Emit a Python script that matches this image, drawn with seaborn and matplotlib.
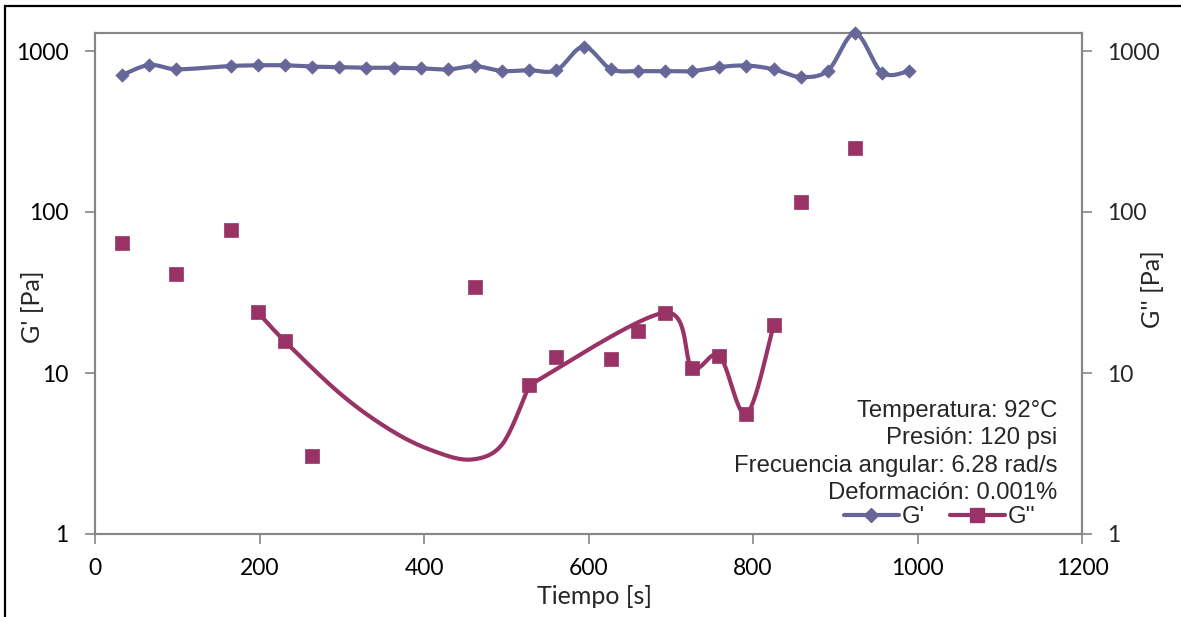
import numpy as np
import pandas as pd
import matplotlib
matplotlib.use("Agg")
import matplotlib.pyplot as plt
from matplotlib.lines import Line2D
from matplotlib.patches import Rectangle
from matplotlib.ticker import FixedLocator, FixedFormatter, NullLocator
import seaborn as sns

# ---------------- data ----------------
gp_time = [33, 66, 99, 165, 198, 231, 264, 297, 330, 363, 396, 429, 462, 495, 528,
           561, 594, 627, 660, 693, 726, 759, 792, 825, 858, 891, 924, 957, 990]
gp_value = [710, 819, 770, 807, 815, 815, 800, 795, 787, 787, 780, 768, 805, 752, 760,
            760, 1064, 773, 750, 750, 750, 795, 812, 770, 690, 755, 1288, 733, 751]

gpp_time = [33, 99, 165, 198, 231, 264, 462, 528, 561, 627, 660, 693, 726, 759, 792,
            825, 858, 924]
gpp_value = [64.5, 41, 77.3, 23.8, 15.7, 3.05, 34, 8.4, 12.6, 12.3, 18.2, 23.7, 10.8,
             12.8, 5.56, 19.8, 115, 250]

# path of the G'' curve as drawn in the picture (two pieces joined at t=528)
gpp_line1_time = [198, 231, 300, 360, 410, 457, 495, 528]
gpp_line1_value = [23.8, 15.7, 7.3, 4.4, 3.3, 2.9, 3.6, 8.4]
gpp_line2_time = [528, 693, 726, 759, 792, 825]
gpp_line2_value = [8.4, 23.7, 10.8, 12.8, 5.56, 19.8]

x_ticks = [0, 200, 400, 600, 800, 1000, 1200]
y_ticks = [1, 10, 100, 1000]
y_tick_labels = ["1", "10", "100", "1000"]

notes = ["Temperatura: 92°C", "Presión: 120 psi",
         "Frecuencia angular: 6.28 rad/s", "Deformación: 0.001%"]

C_GP = "#666699"
C_GPP = "#993366"
AX_GRAY = "#868686"

W, H = 1181, 617
sns.set_theme(style="white")
plt.rcParams["font.family"] = ["Lato", "DejaVu Sans"]

fig = plt.figure(figsize=(W / 100, H / 100), dpi=100)
L, R, T, B = 95, 1082, 33, 534
ax = fig.add_axes([L / W, 1 - B / H, (R - L) / W, (B - T) / H])

YMAX = 10 ** ((B - T) / 161.0)
XMAX = 1200


def smooth(xs, ys, n=30, cap=0.4):
    """Catmull-Rom style Bezier smoothing in screen-like space, with the
    control-point distance capped relative to the segment length."""
    sx = (R - L) / XMAX
    sy = 161.0
    P = np.column_stack([np.asarray(xs, float) * sx, np.log10(np.asarray(ys, float)) * sy])
    out = [P[0]]

    def clamp(v, lim):
        nv = np.hypot(*v)
        return v * (lim / nv) if nv > lim else v

    for i in range(len(P) - 1):
        p0 = P[i - 1] if i > 0 else P[i]
        p1 = P[i]
        p2 = P[i + 1]
        p3 = P[i + 2] if i + 2 < len(P) else P[i + 1]
        d = np.hypot(*(p2 - p1))
        c1 = p1 + clamp((p2 - p0) / 6.0, cap * d)
        c2 = p2 - clamp((p3 - p1) / 6.0, cap * d)
        t = np.linspace(0, 1, n)[1:, None]
        seg = ((1 - t) ** 3) * p1 + 3 * ((1 - t) ** 2) * t * c1 + 3 * (1 - t) * t ** 2 * c2 + t ** 3 * p2
        out.extend(seg)
    out = np.array(out)
    return out[:, 0] / sx, 10 ** (out[:, 1] / sy)


gx, gy = smooth(gp_time, gp_value)
h1x, h1y = smooth(gpp_line1_time, gpp_line1_value)
h2x, h2y = smooth(gpp_line2_time, gpp_line2_value)

df_gp_line = pd.DataFrame({"t": gx, "v": gy})
df_gpp_line = pd.DataFrame({"t": np.r_[h1x, h2x], "v": np.r_[h1y, h2y]})
df_gp = pd.DataFrame({"t": gp_time, "v": gp_value})
df_gpp = pd.DataFrame({"t": gpp_time, "v": gpp_value})

ax.set_yscale("log")
sns.lineplot(data=df_gp_line, x="t", y="v", ax=ax, color=C_GP, lw=3.0, sort=False,
             estimator=None, zorder=3, legend=False)
sns.lineplot(data=df_gpp_line, x="t", y="v", ax=ax, color=C_GPP, lw=3.0, sort=False,
             estimator=None, zorder=3, legend=False)
sns.scatterplot(data=df_gp, x="t", y="v", ax=ax, marker="D", s=46, color=C_GP,
                edgecolor=C_GP, linewidth=0.5, zorder=4, legend=False, clip_on=False)
sns.scatterplot(data=df_gpp, x="t", y="v", ax=ax, marker="s", s=105, color=C_GPP,
                edgecolor=C_GPP, linewidth=0.5, zorder=4, legend=False, clip_on=False)
for ln in ax.lines:
    ln.set_clip_on(False)

ax.set_xlim(0, XMAX)
ax.set_ylim(1, YMAX)
ax.set_xticks(x_ticks)
ax.set_xticklabels([str(v) for v in x_ticks])
ax.yaxis.set_major_locator(FixedLocator(y_ticks))
ax.yaxis.set_major_formatter(FixedFormatter(y_tick_labels))
ax.yaxis.set_minor_locator(NullLocator())
ax.set_xlabel("")
ax.set_ylabel("")

for sp in ax.spines.values():
    sp.set_color(AX_GRAY)
    sp.set_linewidth(1.5)

ax.tick_params(axis="both", which="major", direction="out", length=7, width=1.2,
               color=AX_GRAY, labelsize=16.5, labelcolor="black")
ax.tick_params(axis="y", pad=12)
ax.tick_params(axis="x", pad=10, bottom=True)
ax.tick_params(axis="y", left=True)

ax2 = ax.twinx()
ax2.set_yscale("log")
ax2.set_ylim(1, YMAX)
ax2.yaxis.set_major_locator(FixedLocator(y_ticks))
ax2.yaxis.set_major_formatter(FixedFormatter(y_tick_labels))
ax2.yaxis.set_minor_locator(NullLocator())
ax2.tick_params(axis="y", direction="out", length=7, width=1.2, color=AX_GRAY,
                labelsize=16.5, pad=11, right=True)
for sp in ax2.spines.values():
    sp.set_color(AX_GRAY)
    sp.set_linewidth(1.5)
ax2.grid(False)
ax.grid(False)
ax.set_zorder(ax2.get_zorder() + 1)
ax.patch.set_visible(False)

# axis titles
fig.text(33 / W, 1 - 307 / H, "G' [Pa]", rotation=90, ha="center", va="center", fontsize=18)
fig.text(1152 / W, 1 - 289 / H, "G'' [Pa]", rotation=90, ha="center", va="center", fontsize=18)
fig.text(595 / W, 1 - 596 / H, "Tiempo [s]", ha="center", va="center", fontsize=18)

# notes
for txt, yb in zip(notes, [417, 444, 472, 499]):
    fig.text(1057 / W, 1 - yb / H, txt, ha="right", va="baseline", fontsize=17.2,
             family=["Liberation Sans", "DejaVu Sans"])

handles = [Line2D([], [], color=C_GP, lw=3.0, marker="D", ms=7.5),
           Line2D([], [], color=C_GPP, lw=3.0, marker="s", ms=10)]
leg = fig.legend(handles, ["G'", "G''"], ncol=2, frameon=False, loc="center left",
                 bbox_to_anchor=(844 / W, 1 - 517 / H), borderpad=0, borderaxespad=0,
                 handlelength=2.3, handletextpad=0.12, columnspacing=1.05,
                 prop={"family": ["Liberation Sans", "DejaVu Sans"], "size": 17.2})

# outer chart frame
fig.patches.append(Rectangle((5 / W, -0.2), 2.0, 1.2 - 6 / H, transform=fig.transFigure,
                             fill=False, edgecolor="black", lw=1.6, clip_on=False))

fig.savefig("out.png", dpi=100)
